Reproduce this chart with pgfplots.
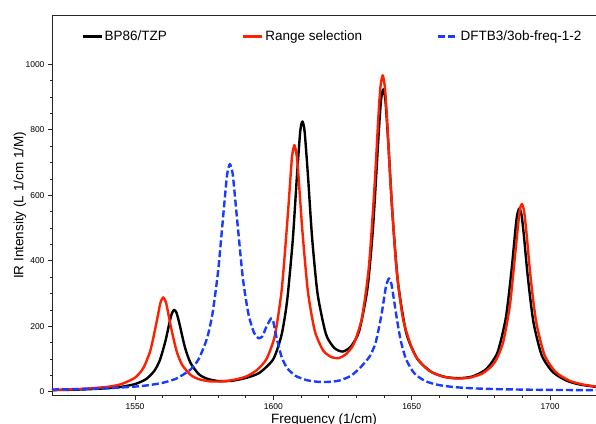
\documentclass[border=0pt]{standalone}
\usepackage{fontspec}
\setmainfont{Liberation Sans}
\usepackage{pgfplots}
\pgfplotsset{compat=1.18}
\definecolor{rsred}{RGB}{255,32,0}
\definecolor{dfblue}{RGB}{25,60,255}

\begin{document}
\begin{tikzpicture}
\begin{axis}[
  scale only axis,
  width=544pt, height=380.7pt,
  xmin=1520, xmax=1716.6, ymin=-12, ymax=1150,
  axis lines=left,
  axis line style={-, line width=0.8pt, black!85},
  tick align=outside,
  xtick={1550,1600,1650,1700},
  ytick={0,200,400,600,800,1000},
  minor x tick num=4, minor y tick num=3,
  major tick length=4pt, minor tick length=2pt,
  tick style={black!85, line width=0.6pt},
  ticklabel style={font=\fontsize{8.5}{10}\selectfont},
  /pgf/number format/assume math mode=true,
  /pgf/number format/1000 sep={},
  xlabel={Frequency (1/cm)},
  ylabel={IR Intensity (L 1/cm 1/M)},
  every axis x label/.style={at={(axis description cs:0.5,-0.037)}, anchor=north,
    font=\fontsize{13.5}{16}\selectfont},
  every axis y label/.style={at={(axis description cs:-0.059,0.5)}, anchor=center, rotate=90,
    font=\fontsize{13.5}{16}\selectfont},
  clip mode=individual,
  legend columns=3,
  legend image code/.code={\draw[#1, line width=2.4pt] (0pt,0pt) -- (19pt,0pt);},
  legend style={draw=none, fill=none, at={(axis description cs:0.048,0.943)}, anchor=west,
    font=\fontsize{13.5}{16}\selectfont,
    /tikz/every even column/.append style={column sep=73pt}},
  every axis plot/.append style={line width=2.4pt, line join=round, smooth, tension=0.4},
]
\addplot[black] coordinates {
(1520,5)(1530,6.8)(1540,10.8)(1545,15)(1550,23.4)(1554,38.5)(1557,64)(1559,97)
(1561,155)(1562.5,212.5)(1563.4,241)(1564.2,250)(1565,241)(1566,210)(1568,137)
(1570,89)(1573,54)(1576,40)(1580,32.8)(1585,33.5)(1590,42)(1595,58)(1600,100)
(1603,175)(1605,280)(1607,462)(1608.5,656)(1609.7,794)(1610.5,825)(1611.3,794)
(1612.5,660)(1614,470)(1616,298)(1619,176)(1622,134)(1625,122.7)(1628,138)
(1631,185)(1634,315)(1636,500)(1638,780)(1638.9,889)(1639.7,923)(1640.5,889)
(1641.5,765)(1643,548)(1645,336)(1648,180)(1652,101)(1657,61)(1662,45.4)
(1667,41.3)(1672,46.8)(1677,69.6)(1681,120)(1684,225)(1686,365)(1687.5,497)
(1688.1,539)(1688.9,560)(1689.7,539)(1690.5,480)(1692,347)(1694,212)(1697,111)
(1701,60)(1706,33.7)(1711,21.7)(1717,14.7)
};
\addplot[rsred] coordinates {
(1520,5.6)(1530,8.4)(1540,15)(1545,23.2)(1550,43)(1553,72.4)(1555.5,124.5)
(1557.5,200)(1559,264.7)(1559.4,277)(1560.2,288)(1561,277)(1561.5,261.5)(1563,197)
(1565,124.6)(1567,82.6)(1570,52)(1573,38.6)(1577,31.9)(1581,31.4)(1585,35.3)
(1590,46)(1594,66)(1597.5,100)(1600.5,170)(1603,310)(1605,515)(1606.5,692)
(1606.8,722)(1607.6,753)(1608.4,722)(1609,668)(1610.5,490)(1612.5,305)
(1615,185)(1618,126)(1621,105.7)(1623.5,102.8)(1626,113)(1629,145)(1632,225)
(1634.5,380)(1636.5,618)(1638,846)(1638.7,930)(1639.5,966)(1640.3,930)(1641,844)
(1642.5,615)(1644.5,376)(1647,217)(1651,115)(1656,66)(1661,47)(1666,40.6)
(1671,43)(1676,58)(1680,90)(1683,150)(1685.5,265)(1687.5,430)(1689,551.5)
(1689.8,573)(1690.6,551.5)(1691.5,482)(1693,346)(1695,212)(1698,112)
(1702,60.4)(1707,33.8)(1712,22)(1717,15.7)
};
\addplot[dfblue, dash pattern=on 7pt off 3pt] coordinates {
(1520,6.9)(1530,8.4)(1540,10.9)(1550,15.8)(1555,20.2)(1560,27.4)(1565,40.5)
(1570,67.4)(1573,99.9)(1576,162.4)(1578,238.5)(1580,365.8)(1581.5,502)(1583,641)
(1583.5,674)(1584.3,695)(1585.1,674)(1585.5,650.8)(1587,517)(1589,345)(1591,236.9)
(1593,180.3)(1594.6,163.3)(1596,169)(1597.5,199)(1598.4,213)(1599.2,224)(1600,213)
(1601,171)(1603,106)(1605,72)(1608,48.7)(1612,35.6)(1616,30.5)(1620,30.1)
(1624,34.6)(1628,48.6)(1631,70.3)(1633,88.8)(1635,110.5)(1637,151)(1639,232)
(1640.5,312)(1641,331)(1641.8,346)(1642.6,331)(1643,313)(1644.5,229.7)(1646,157.4)
(1648,98.3)(1651,55.7)(1655,32.3)(1660,20.2)(1666,13.8)(1673,10.2)(1680,8.2)
(1690,6.6)(1700,5.7)(1710,5.1)(1717,4.8)
};
\legend{BP86/TZP, Range selection, DFTB3/3ob-freq-1-2}
\draw[line width=0.8pt, black!85] (rel axis cs:0,1) -- (rel axis cs:1,1);
\coordinate (o) at (rel axis cs:0,0);
\end{axis}
\pgfresetboundingbox
\path ([shift={(-52pt,-27.3pt)}]o) rectangle ([shift={(544pt,395.7pt)}]o);
\end{tikzpicture}
\end{document}
